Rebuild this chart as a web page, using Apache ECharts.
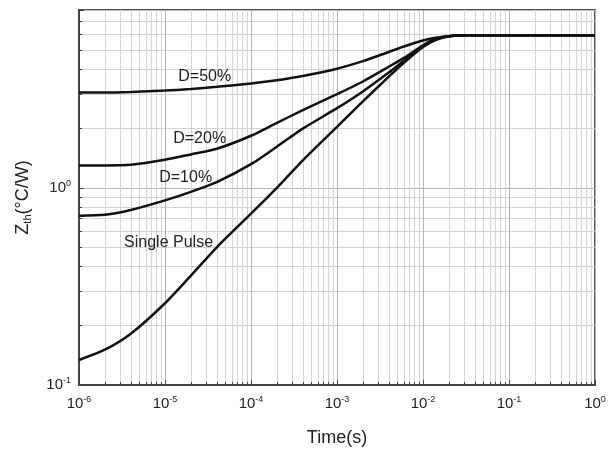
<!DOCTYPE html>
<html>
<head>
<meta charset="utf-8">
<script src="https://cdn.jsdelivr.net/npm/echarts@6/dist/echarts.min.js"></script>
<style>
  html, body { margin: 0; padding: 0; background: #fff; }
  #chart { width: 616px; height: 452px; }
</style>
</head>
<body>
<div id="chart"></div>
<script>
  // time points (s)
  var times = [1e-6, 2e-6, 4e-6, 1e-5, 2e-5, 4e-5, 1e-4, 2e-4, 4e-4, 1e-3, 2e-3, 4e-3, 6e-3, 1e-2, 1.4e-2, 2e-2, 3e-2, 1e-1, 1];
  // Zth (°C/W)
  var zD50 = [3.05, 3.05, 3.07, 3.12, 3.18, 3.26, 3.39, 3.52, 3.70, 4.03, 4.40, 4.90, 5.22, 5.60, 5.78, 5.89, 5.96, 5.96, 5.96];
  var zD20 = [1.30, 1.30, 1.31, 1.39, 1.48, 1.58, 1.84, 2.14, 2.48, 2.99, 3.47, 4.12, 4.57, 5.30, 5.70, 5.89, 5.96, 5.96, 5.96];
  var zD10 = [0.723, 0.731, 0.773, 0.865, 0.955, 1.07, 1.32, 1.62, 2.00, 2.54, 3.09, 3.85, 4.42, 5.25, 5.69, 5.89, 5.96, 5.96, 5.96];
  var zSingle = [0.134, 0.151, 0.182, 0.26, 0.359, 0.50, 0.74, 1.00, 1.38, 2.04, 2.75, 3.67, 4.32, 5.19, 5.62, 5.89, 5.96, 5.96, 5.96];
  var seriesNames = ['D=50%', 'D=20%', 'D=10%', 'Single Pulse'];
  // where each curve's label sits (time, Zth)
  var labelAt = [[2.9e-5, 3.67], [2.53e-5, 1.79], [1.74e-5, 1.127], [1.1e-5, 0.531]];

  var font = "'Liberation Sans', Arial, sans-serif";

  function pairs(ys) {
    return times.map(function (t, i) { return [t, ys[i]]; });
  }

  function powLabel(value) {
    var e = Math.round(Math.log(value) / Math.LN10);
    if (Math.abs(value - Math.pow(10, e)) / Math.pow(10, e) > 1e-6) return '';
    return '{b|10}{s|' + e + '}';
  }

  var tickRich = {
    b: { fontSize: 15, color: '#222', fontFamily: font },
    s: { fontSize: 9, color: '#222', fontFamily: font, padding: [0, 0, 9, 0] }
  };

  var chart = echarts.init(document.getElementById('chart'));

  var series = [zD50, zD20, zD10, zSingle].map(function (ys, i) {
    return {
      name: seriesNames[i],
      type: 'line',
      data: pairs(ys),
      smooth: 0.25,
      showSymbol: false,
      lineStyle: { color: '#111', width: 2.5 },
      markPoint: {
        symbolSize: 0,
        silent: true,
        data: [{ coord: labelAt[i] }],
        label: {
          show: true,
          formatter: seriesNames[i],
          color: '#222',
          fontSize: 16,
          fontFamily: font,
          position: 'inside'
        }
      }
    };
  });

  chart.setOption({
    animation: false,
    backgroundColor: '#fff',
    grid: {
      left: 79, right: 21, top: 10, bottom: 63,
      show: true,
      borderColor: '#555',
      borderWidth: 2
    },
    xAxis: {
      type: 'log',
      logBase: 10,
      min: 1e-6,
      max: 1,
      name: 'Time(s)',
      nameLocation: 'middle',
      nameGap: 44,
      nameTextStyle: { fontSize: 18, color: '#222', fontFamily: font },
      axisLine: { lineStyle: { color: '#444', width: 2 } },
      axisTick: { inside: true, length: 5, lineStyle: { color: '#444' } },
      minorTick: { show: true, splitNumber: 9, length: 3, lineStyle: { color: '#444' } },
      splitLine: { show: true, lineStyle: { color: '#b4b4b4', width: 1 } },
      minorSplitLine: { show: true, lineStyle: { color: '#d4d4d4', width: 1 } },
      axisLabel: { formatter: powLabel, rich: tickRich, margin: 10 }
    },
    yAxis: {
      type: 'log',
      logBase: 10,
      min: 0.1,
      max: 8,
      name: '{z|Z}{sub|th}{z|(°C/W)}',
      nameLocation: 'middle',
      nameGap: 46,
      nameTextStyle: {
        rich: {
          z: { fontSize: 18, color: '#222', fontFamily: font },
          sub: { fontSize: 11, color: '#222', fontFamily: font, padding: [8, 0, 0, 0] }
        }
      },
      axisLine: { lineStyle: { color: '#444', width: 2 } },
      axisTick: { inside: true, length: 5, lineStyle: { color: '#444' } },
      minorTick: { show: true, splitNumber: 9, length: 3, lineStyle: { color: '#444' } },
      splitLine: { show: true, lineStyle: { color: '#b4b4b4', width: 1 } },
      minorSplitLine: { show: true, lineStyle: { color: '#d4d4d4', width: 1 } },
      axisLabel: { formatter: powLabel, rich: tickRich, margin: 8 }
    },
    series: series
  });
</script>
</body>
</html>
